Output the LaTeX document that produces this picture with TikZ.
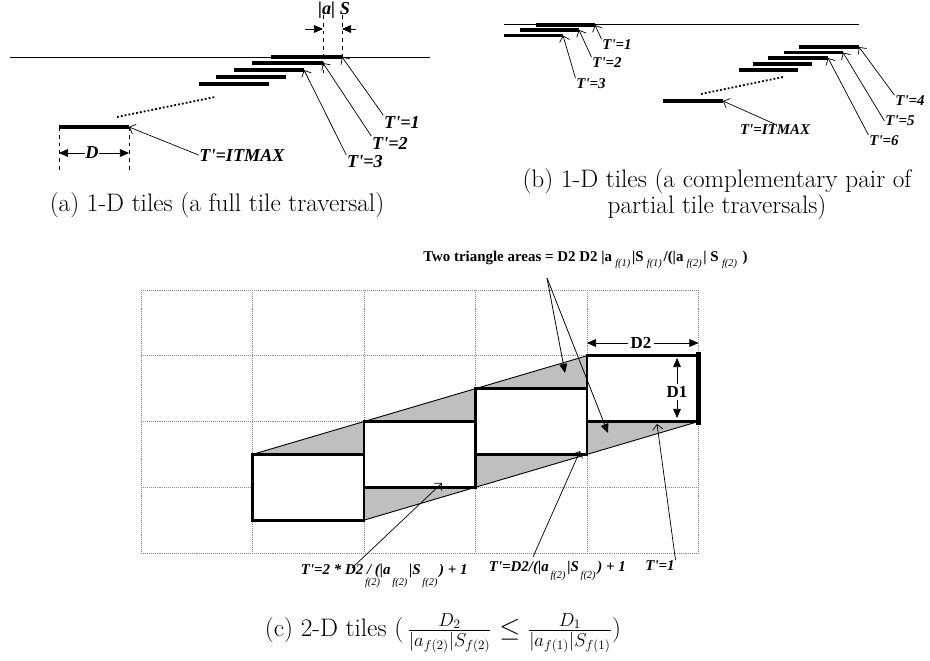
\documentclass[tikz,border=0pt]{standalone}
\usepackage{fontspec}
\newfontfamily\tms{Liberation Serif}
\usetikzlibrary{arrows.meta}
\newcommand{\lowf}[1]{\raisebox{-3.5pt}{\fontsize{8}{8}\selectfont\mdseries\itshape\hspace{2.5pt}#1\,}}
\newcommand{\lowg}[1]{\raisebox{-6pt}{\fontsize{8}{8}\selectfont\mdseries\itshape\,#1\,}}
\newcommand{\lowh}[1]{\raisebox{-8.5pt}{\fontsize{8}{8}\selectfont\mdseries\itshape\,#1\,}}
\tikzset{
  bar/.style    ={line width=2.7pt},                          % one tile
  axis/.style   ={line width=0.7pt},
  tile/.style   ={draw, line width=2.3pt, fill=white},
  gridln/.style ={black!45, densely dotted, line width=0.5pt},
  dots/.style   ={line width=1.4pt, dash pattern=on 1.4pt off 1.6pt},
  guide/.style  ={dashed, line width=0.6pt},
  tarr/.style   ={-{Straight Barb[length=4pt, width=8pt]}, line width=0.55pt}, % label -> tile
  dimarr/.style ={-{Triangle[length=7pt, width=6pt]}, line width=0.6pt},
  lblA/.style   ={font=\tms\bfseries\itshape\fontsize{14}{14}\selectfont, inner sep=0.5pt},
  lblB/.style   ={font=\tms\bfseries\itshape\fontsize{11.5}{11.5}\selectfont, inner sep=0.5pt},
  dimlbl/.style ={font=\tms\bfseries\fontsize{13}{13}\selectfont, fill=white, inner sep=1.5pt},
  capt/.style   ={font=\fontsize{19.5}{18}\selectfont, align=center},
}

\begin{document}
\begin{tikzpicture}[x=0.77pt, y=-0.77pt]
  \useasboundingbox (0,0) rectangle (930,661);

  % (a) a full tile traversal
  \draw[axis] (10,57) -- (430,57);
  \draw[bar] (271,57) -- (342,57) coordinate (a1);
  \draw[bar] (252,63) -- (323,63) coordinate (a2);
  \draw[bar] (234,70) -- (304,70) coordinate (a3);
  \draw[bar] (216,77) -- (286,77);
  \draw[bar] (199,84) -- (269,84);
  \draw[dots] (117,117) -- (215,97);
  \draw[bar] (59,127) coordinate (aNl) -- (129,127) coordinate (aN);
  \coordinate (aNlo) at (59,170);
  \coordinate (aNro) at (129,170);
  \draw[guide] (aNl) -- (aNlo);
  \draw[guide] (aN) -- (aNro);
  \node[lblA] (dA) at (92,153) {D};
  \coordinate (dAl) at (59,153);
  \coordinate (dAr) at (129,153);
  \draw[dimarr] (dA.west) -- (dAl);
  \draw[dimarr] (dA.east) -- (dAr);
  % |a| S step
  \coordinate (stepl) at (323,15);
  \coordinate (stepr) at (342,15);
  \draw[guide] (stepl) -- (323,76);
  \draw[guide] (stepr) -- (a1);
  \node[lblA] (stepA) at (334,10) {|a| S};
  \coordinate (stepl0) at (305,29);
  \coordinate (stepl1) at (323,29);
  \coordinate (stepr0) at (356,29);
  \coordinate (stepr1) at (342,29);
  \draw[dimarr] (stepl0) -- (stepl1);
  \draw[dimarr] (stepr0) -- (stepr1);
  \node[lblA] (la1) at (402,122) {T'=1};
  \node[lblA] (la2) at (390,143) {T'=2};
  \node[lblA] (la3) at (365,162) {T'=3};
  \node[lblA] (laN) at (242,155) {T'=ITMAX};
  \draw[tarr] (la1.north west) -- (a1);
  \draw[tarr] (la2.north west) -- (a2);
  \draw[tarr] (la3.north west) -- (a3);
  \draw[tarr] (laN.west) -- (aN);
  \node[capt] (captA) at (217,205) {(a) 1-D tiles (a full tile traversal)};

  % (b) a complementary pair of partial traversals
  \draw[axis] (504,24) -- (859,24);
  \draw[bar] (536,25) -- (595,25) coordinate (b1);
  \draw[bar] (520,30) -- (579,30) coordinate (b2);
  \draw[bar] (504,35.5) -- (563,35.5) coordinate (b3);
  \draw[bar] (799,47) -- (859,47) coordinate (b4);
  \draw[bar] (784,52.5) -- (843,52.5) coordinate (b5);
  \draw[bar] (768,58) -- (828,58) coordinate (b6);
  \draw[bar] (753,64) -- (812,64);
  \draw[bar] (739,70) -- (798,70);
  \draw[dots] (701,94) -- (783,77);
  \draw[bar] (663,101) -- (723,101) coordinate (bN);
  \node[lblB] (lb1) at (617,45) {T'=1};
  \node[lblB] (lb2) at (607,63) {T'=2};
  \node[lblB] (lb3) at (591,84) {T'=3};
  \node[lblB] (lb4) at (910,101) {T'=4};
  \node[lblB] (lb5) at (900,121) {T'=5};
  \node[lblB] (lb6) at (884,141) {T'=6};
  \node[lblB] (lbN) at (775,130) {T'=ITMAX};
  \draw[tarr] (lb1.north west) -- (b1);
  \draw[tarr] (lb2.north west) -- (b2);
  \draw[tarr] (lb3.north west) -- (b3);
  \draw[tarr] (lb4.north west) -- (b4);
  \draw[tarr] (lb5.west) -- (b5);
  \draw[tarr] (lb6.north west) -- (b6);
  \draw[tarr] (lbN.north) -- (bN);
  \node[capt] (captB) at (717,194) {(b) 1-D tiles (a complementary pair of\\ partial tile traversals)};

  % (c) 2-D tiles
  \foreach \gx in {141,252.5,364,475.5,587,698.5}
    \draw[gridln] (\gx,290) -- (\gx,553);
  \foreach \gy in {290,355.75,421.5,487.25,553}
    \draw[gridln] (141,\gy) -- (698.5,\gy);
  \fill[black!25] (252.5,454.4) -- (587,355.75) -- (698.5,421.5) -- (364,520.15) -- cycle;
  \draw[axis] (252.5,454.4) -- (587,355.75);
  \draw[axis] (364,520.15) -- (698.5,421.5);
  \draw[tile] (252.5,454.4) rectangle (364,520.15);
  \draw[tile] (364,421.5) rectangle (475.5,487.25);
  \draw[tile] (475.5,388.6) rectangle (587,454.4);
  \draw[tile] (587,355.75) rectangle (698.5,421.5);
  \draw[line width=4.2pt] (698.5,352) -- (698.5,425);
  \node[dimlbl] (d2) at (641,343) {D2};
  \coordinate (d2l) at (587,343);
  \coordinate (d2r) at (698.5,343);
  \draw[dimarr] (d2.west) -- (d2l);
  \draw[dimarr] (d2.east) -- (d2r);
  \node[dimlbl] (d1) at (677,392) {D1};
  \coordinate (d1t) at (677,358);
  \coordinate (d1b) at (677,418);
  \draw[dimarr] (d1.north) -- (d1t);
  \draw[dimarr] (d1.south) -- (d1b);
  \node[font=\tms\bfseries\fontsize{11.5}{11.5}\selectfont, anchor=west, inner sep=0pt] (tri) at (423,260)
    {Two triangle areas = D2 D2 |a\lowf{f(1)}|S\lowf{f(1)}/(|a\lowf{f(2)}| S\lowf{f(2)}\ )};
  \coordinate (trisrc) at (547,278);
  \coordinate (tri1) at (565,373);
  \coordinate (tri2) at (608,433);
  \draw[dimarr] (trisrc) -- (tri1);
  \draw[dimarr] (trisrc) -- (tri2);
  \node[lblB, anchor=west] (lc2) at (300,576)
    {T'=2 * D2\rlap{\lowh{f(2)}} / (|a\lowh{f(2)}|S\lowh{f(2)}) + 1};
  \node[lblB, anchor=west] (lc1) at (488,571)
    {T'=D2/(|a\lowg{f(2)}|S\lowg{f(2)}) + 1};
  \node[lblB] (lc0) at (660,566) {T'=1};
  \coordinate (lc2s) at (352,568);
  \coordinate (lc1s) at (533,557);
  \coordinate (lc2t) at (442,483);
  \coordinate (lc1t) at (580,451);
  \coordinate (lc0t) at (657,424);
  \draw[tarr] (lc2s) -- (lc2t);
  \draw[tarr] (lc1s) -- (lc1t);
  \draw[tarr] (lc0.north east) -- (lc0t);
  \node[capt] (captC) at (443,633)
    {(c) 2-D tiles (\,$\frac{D_2\rule[-2pt]{0pt}{2pt}}{\rule{0pt}{12pt}|a_{f(2)}|S_{f(2)}} \leq
      \frac{D_1\rule[-2pt]{0pt}{2pt}}{\rule{0pt}{12pt}|a_{f(1)}|S_{f(1)}}$)};
\end{tikzpicture}
\end{document}
